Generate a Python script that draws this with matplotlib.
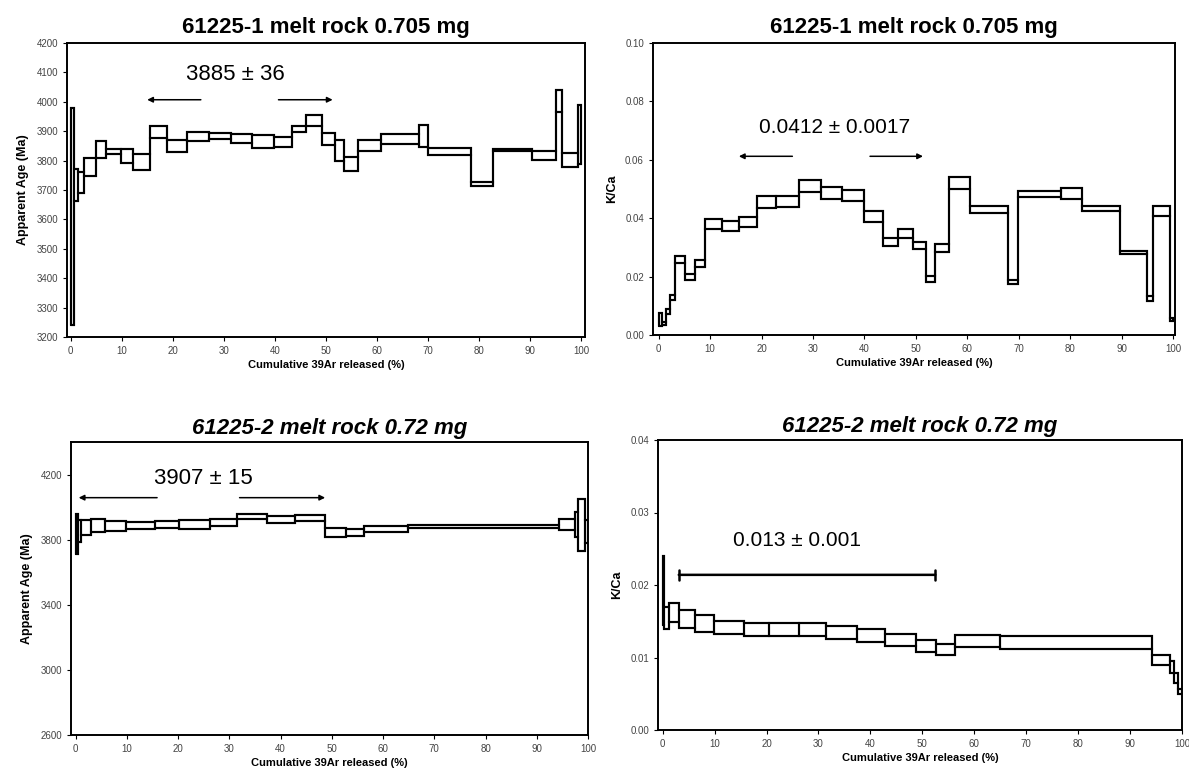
"""
Ar-Ar step-heating spectra for two 61225 melt rock splits:
apparent age and K/Ca versus cumulative 39Ar released.
"""
import numpy as np
import matplotlib
matplotlib.use('Agg')
import matplotlib.pyplot as plt

plt.rcParams['font.family'] = ['Liberation Sans', 'DejaVu Sans']

###############################################################################
# Step data (cumulative 39Ar edges in %, lower / upper bound of each step)

# 61225-1, apparent age (Ma)
edges_age1 = [0, 0.6, 1.5, 2.7, 5.0, 6.9, 9.9, 12.2, 15.6, 18.9, 22.8, 27.0,
              31.5, 35.6, 39.9, 43.4, 46.1, 49.2, 51.8, 53.6, 56.2, 60.7, 68.3,
              69.9, 78.3, 82.6, 90.3, 95.1, 96.1, 99.4, 100]
low_age1 = [3240, 3662, 3690, 3748, 3810, 3821, 3791, 3767, 3878, 3829, 3867,
            3873, 3861, 3844, 3846, 3897, 3916, 3852, 3799, 3764, 3833, 3858,
            3846, 3819, 3713, 3833, 3801, 3965, 3779, 3790]
high_age1 = [3978, 3770, 3762, 3810, 3865, 3838, 3838, 3821, 3916, 3869, 3896,
             3893, 3890, 3886, 3881, 3916, 3955, 3893, 3869, 3812, 3869, 3890,
             3922, 3844, 3727, 3840, 3833, 4040, 3827, 3990]

# 61225-1, K/Ca
edges_kca1 = [0, 0.6, 1.5, 2.2, 3.2, 5.2, 7.0, 9.1, 12.3, 15.6, 19.2, 22.9,
              27.2, 31.5, 35.6, 40.0, 43.6, 46.6, 49.4, 52.0, 53.8, 56.5, 60.6,
              68.0, 69.8, 78.2, 82.4, 89.8, 94.9, 96.2, 99.5, 100]
low_kca1 = [0.0030, 0.0035, 0.0072, 0.0121, 0.0245, 0.0188, 0.0234, 0.0363,
            0.0357, 0.0369, 0.0434, 0.0437, 0.0491, 0.0466, 0.0458, 0.0388,
            0.0306, 0.0331, 0.0295, 0.0183, 0.0285, 0.0500, 0.0417, 0.0175,
            0.0474, 0.0466, 0.0426, 0.0277, 0.0118, 0.0406, 0.0048]
high_kca1 = [0.0075, 0.0045, 0.0089, 0.0137, 0.0272, 0.0209, 0.0258, 0.0397,
             0.0392, 0.0403, 0.0475, 0.0477, 0.0531, 0.0508, 0.0498, 0.0425,
             0.0331, 0.0363, 0.0320, 0.0203, 0.0312, 0.0540, 0.0443, 0.0190,
             0.0492, 0.0503, 0.0443, 0.0287, 0.0132, 0.0441, 0.0058]

# 61225-2, apparent age (Ma)
edges_age2 = [0, 0.4, 1.0, 3.0, 5.8, 9.9, 15.4, 20.2, 26.2, 31.4, 37.4, 42.8,
              48.6, 52.8, 56.3, 64.9, 94.4, 97.4, 98.1, 99.4, 100]
low_age2 = [3710, 3784, 3829, 3850, 3852, 3866, 3871, 3866, 3883, 3928, 3904,
            3912, 3819, 3825, 3850, 3871, 3862, 3815, 3733, 3780]
high_age2 = [3955, 3918, 3918, 3924, 3914, 3908, 3914, 3922, 3928, 3959, 3945,
             3949, 3871, 3866, 3881, 3891, 3928, 3969, 4052, 3920]

# 61225-2, K/Ca
edges_kca2 = [0, 0.3, 1.2, 3.2, 6.2, 9.9, 15.6, 20.5, 26.2, 31.5, 37.4, 42.8,
              48.7, 52.6, 56.3, 64.9, 94.3, 97.7, 98.4, 99.3, 100]
low_kca2 = [0.0145, 0.0140, 0.0149, 0.0141, 0.0135, 0.0132, 0.0129, 0.0129,
            0.0129, 0.0125, 0.0122, 0.0116, 0.0108, 0.0103, 0.0114, 0.0112,
            0.0090, 0.0078, 0.0065, 0.0049]
high_kca2 = [0.0240, 0.0169, 0.0175, 0.0165, 0.0158, 0.0151, 0.0148, 0.0148,
             0.0147, 0.0144, 0.0139, 0.0133, 0.0124, 0.0119, 0.0131, 0.0129,
             0.0103, 0.0095, 0.0078, 0.0056]

titles = ['61225-1 melt rock 0.705 mg', '61225-2 melt rock 0.72 mg']
xlabel = 'Cumulative 39Ar released (%)'


def draw_steps(ax, edges, low, high):
    edges = np.asarray(edges, float)
    low = np.asarray(low, float)
    high = np.asarray(high, float)
    # outline joining neighbouring steps, plus each step as its own box
    ax.stairs(high, edges, baseline=low, fill=False, color='k', lw=1.5)
    ax.bar(edges[:-1], high - low, width=np.diff(edges), bottom=low,
           align='edge', fill=False, edgecolor='k', lw=1.5)


def style_axes(ax, ylabel):
    ax.set_xticks(np.arange(0, 101, 10))
    ax.tick_params(labelsize=7, labelcolor='#444444', length=3, width=0.8)
    for s in ax.spines.values():
        s.set_linewidth(1.4)
    ax.set_xlabel(xlabel, fontsize=8, fontweight='bold', labelpad=3)
    ax.set_ylabel(ylabel, fontsize=9, fontweight='bold', labelpad=5)


def arrows(ax, y, left, right):
    kw = dict(arrowstyle='-|>', color='k', lw=1.1, mutation_scale=8,
              shrinkA=0, shrinkB=0)
    ax.annotate('', xy=(left[1], y), xytext=(left[0], y), arrowprops=kw)
    ax.annotate('', xy=(right[1], y), xytext=(right[0], y), arrowprops=kw)


fig = plt.figure(figsize=(11.89, 7.75), dpi=100)
W, H = 1189.0, 775.0


def add_ax(x0, x1, y0, y1):
    return fig.add_axes([x0 / W, 1 - y1 / H, (x1 - x0) / W, (y1 - y0) / H])


# top left: age, 61225-1
ax1 = add_ax(67, 585, 43, 337)
draw_steps(ax1, edges_age1, low_age1, high_age1)
ax1.set_xlim(-0.7, 100.7)
ax1.set_ylim(3200, 4200)
ax1.set_yticks(np.arange(3200, 4201, 100))
style_axes(ax1, 'Apparent Age (Ma)')
ax1.set_title(titles[0], fontsize=16, fontweight='bold', pad=7)
ax1.text(32.2, 4093, '3885 \u00b1 36', fontsize=16, ha='center', va='center')
arrows(ax1, 4007, (25.5, 15.0), (40.7, 51.3))

# top right: K/Ca, 61225-1
ax2 = add_ax(653, 1175, 43, 335)
draw_steps(ax2, edges_kca1, low_kca1, high_kca1)
ax2.set_xlim(-1.1, 100.4)
ax2.set_ylim(0, 0.10)
ax2.set_yticks(np.arange(0, 0.101, 0.02))
ax2.yaxis.set_major_formatter('{x:.2f}')
style_axes(ax2, 'K/Ca')
ax2.set_title(titles[0], fontsize=16, fontweight='bold', pad=7)
ax2.text(34.2, 0.0711, '0.0412 \u00b1 0.0017', fontsize=15, ha='center',
         va='center')
arrows(ax2, 0.0612, (26.0, 15.6), (41.1, 51.4))

# bottom left: age, 61225-2
ax3 = add_ax(71, 588, 442, 735)
draw_steps(ax3, edges_age2, low_age2, high_age2)
ax3.set_xlim(-0.9, 100)
ax3.set_ylim(2600, 4400)
ax3.set_yticks(np.arange(2600, 4201, 400))
style_axes(ax3, 'Apparent Age (Ma)')
ax3.set_title(titles[1], fontsize=16, fontweight='bold', fontstyle='italic',
              pad=6)
ax3.text(24.9, 4175, '3907 \u00b1 15', fontsize=16, ha='center', va='center')
arrows(ax3, 4058, (15.9, 0.6), (32.0, 48.7))

# bottom right: K/Ca, 61225-2
ax4 = add_ax(658, 1182, 440, 730)
draw_steps(ax4, edges_kca2, low_kca2, high_kca2)
ax4.set_xlim(-0.9, 100)
ax4.set_ylim(0, 0.04)
ax4.set_yticks(np.arange(0, 0.041, 0.01))
ax4.yaxis.set_major_formatter('{x:.2f}')
style_axes(ax4, 'K/Ca')
ax4.set_title(titles[1], fontsize=16, fontweight='bold', fontstyle='italic',
              pad=6)
ax4.text(25.8, 0.0261, '0.013 \u00b1 0.001', fontsize=15, ha='center',
         va='center')
ax4.annotate('', xy=(52.5, 0.0214), xytext=(3.1, 0.0214),
             arrowprops=dict(arrowstyle='|-|, widthA=0.35, widthB=0.35',
                             color='k', lw=1.8, shrinkA=0, shrinkB=0))

fig.savefig('out.png', dpi=100)
